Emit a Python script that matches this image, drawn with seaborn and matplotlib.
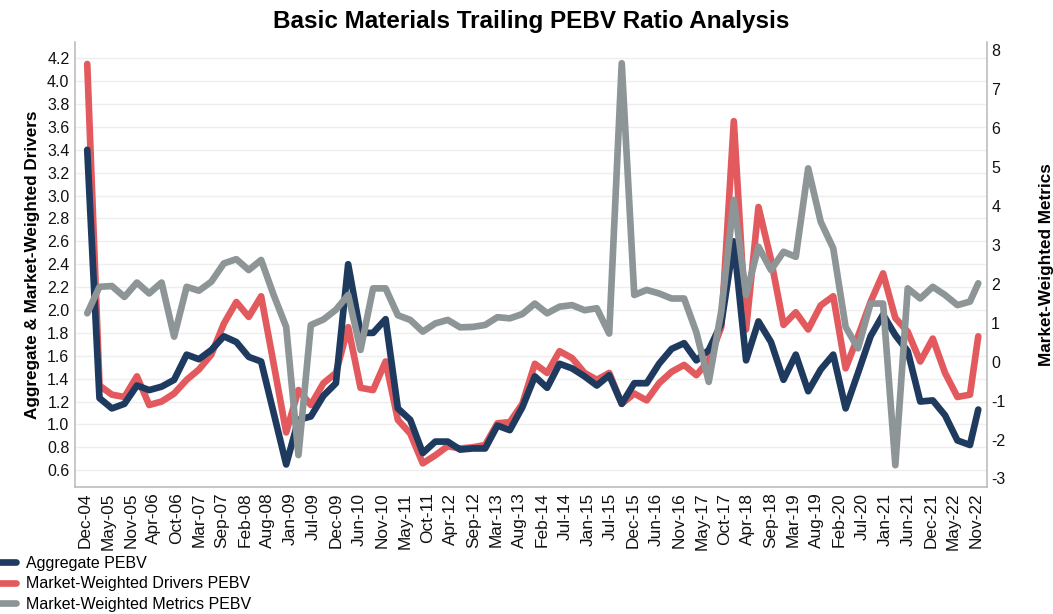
import numpy as np
import pandas as pd
import matplotlib
matplotlib.use("Agg")
import matplotlib.pyplot as plt
import matplotlib.dates as mdates
from matplotlib.ticker import FormatStrFormatter
import seaborn as sns

# quarterly points Dec-04 .. Sep-22, then a last reading in Nov-22
dates = [pd.Timestamp("2004-12-31") + pd.offsets.QuarterEnd(k) for k in range(72)]
dates.append(pd.Timestamp("2022-11-30"))

aggregate = [3.40, 1.23, 1.14, 1.18, 1.34, 1.30, 1.33, 1.39, 1.61, 1.57,
             1.65, 1.77, 1.72, 1.59, 1.55, 1.10, 0.65, 1.04, 1.07, 1.25,
             1.36, 2.40, 1.80, 1.80, 1.92, 1.14, 1.04, 0.75, 0.85, 0.85,
             0.78, 0.79, 0.79, 0.99, 0.95, 1.15, 1.42, 1.32, 1.53, 1.49,
             1.42, 1.34, 1.43, 1.18, 1.36, 1.36, 1.53, 1.66, 1.71, 1.56,
             1.65, 1.88, 2.60, 1.56, 1.90, 1.72, 1.39, 1.61, 1.29, 1.48,
             1.61, 1.14, 1.45, 1.77, 1.96, 1.78, 1.64, 1.20, 1.21, 1.08,
             0.86, 0.82, 1.13]

drivers = [4.15, 1.34, 1.26, 1.24, 1.42, 1.17, 1.20, 1.27, 1.39, 1.48,
           1.61, 1.88, 2.07, 1.94, 2.12, 1.53, 0.93, 1.30, 1.17, 1.36,
           1.45, 1.85, 1.32, 1.30, 1.55, 1.04, 0.92, 0.66, 0.73, 0.81,
           0.79, 0.80, 0.82, 1.01, 1.02, 1.18, 1.53, 1.45, 1.64, 1.58,
           1.45, 1.39, 1.45, 1.18, 1.27, 1.21, 1.36, 1.46, 1.52, 1.43,
           1.56, 1.85, 3.65, 1.83, 2.90, 2.44, 1.87, 1.98, 1.83, 2.04,
           2.12, 1.49, 1.77, 2.07, 2.32, 1.93, 1.81, 1.55, 1.75, 1.45,
           1.24, 1.26, 1.77]

metrics = [1.24, 1.92, 1.94, 1.66, 2.03, 1.75, 2.03, 0.64, 1.92, 1.82,
           2.05, 2.52, 2.63, 2.35, 2.61, 1.71, 0.89, -2.40, 0.94, 1.08,
           1.33, 1.71, 0.30, 1.88, 1.88, 1.19, 1.07, 0.77, 0.98, 1.07,
           0.88, 0.89, 0.94, 1.14, 1.11, 1.22, 1.49, 1.24, 1.41, 1.45,
           1.32, 1.37, 0.72, 7.66, 1.71, 1.84, 1.75, 1.62, 1.62, 0.75,
           -0.52, 1.30, 4.15, 1.71, 2.95, 2.35, 2.82, 2.69, 4.96, 3.59,
           2.91, 0.89, 0.34, 1.49, 1.49, -2.66, 1.88, 1.62, 1.92, 1.71,
           1.45, 1.54, 2.01]

tick_labels = ["Dec-04", "May-05", "Nov-05", "Apr-06", "Oct-06", "Mar-07",
               "Sep-07", "Feb-08", "Aug-08", "Jan-09", "Jul-09", "Dec-09",
               "Jun-10", "Nov-10", "May-11", "Oct-11", "Apr-12", "Sep-12",
               "Mar-13", "Aug-13", "Feb-14", "Jul-14", "Jan-15", "Jul-15",
               "Dec-15", "Jun-16", "Nov-16", "May-17", "Oct-17", "Apr-18",
               "Sep-18", "Mar-19", "Aug-19", "Feb-20", "Jul-20", "Jan-21",
               "Jun-21", "Dec-21", "May-22", "Nov-22"]

df = pd.DataFrame({"date": dates,
                   "Aggregate PEBV": aggregate,
                   "Market-Weighted Drivers PEBV": drivers,
                   "Market-Weighted Metrics PEBV": metrics})

NAVY = "#1F3A5F"
RED = "#E35A5E"
GRAY = "#8D9597"

sns.set_theme(style="white")
plt.rcParams["font.family"] = ["Liberation Sans", "DejaVu Sans"]
plt.rcParams["axes.unicode_minus"] = False
plt.rcParams["text.color"] = "black"
plt.rcParams["axes.labelcolor"] = "black"

fig, ax = plt.subplots(figsize=(10.53, 6.14), dpi=100)
fig.subplots_adjust(left=0.0712, right=0.9373, bottom=0.2068, top=0.9316)

sns.lineplot(data=df, x="date", y="Market-Weighted Drivers PEBV", ax=ax,
             color=RED, lw=4.8, label="Market-Weighted Drivers PEBV")
sns.lineplot(data=df, x="date", y="Aggregate PEBV", ax=ax,
             color=NAVY, lw=4.8, label="Aggregate PEBV")

ax2 = ax.twinx()
sns.lineplot(data=df, x="date", y="Market-Weighted Metrics PEBV", ax=ax2,
             color=GRAY, lw=4.8, label="Market-Weighted Metrics PEBV")

h1, l1 = ax.get_legend_handles_labels()
h2, l2 = ax2.get_legend_handles_labels()
ax.get_legend().remove()
ax2.get_legend().remove()
handles = [h1[1], h1[0], h2[0]]
labels = [l1[1], l1[0], l2[0]]

# axes ranges
ax.set_ylim(0.453, 4.342)
ax2.set_ylim(-3.22, 8.205)
first = mdates.date2num(dates[0])
last = mdates.date2num(dates[-1])
ax.set_xlim(first - 90, last + 64)

ax.set_yticks(np.arange(0.6, 4.21, 0.2))
ax.yaxis.set_major_formatter(FormatStrFormatter("%.1f"))
ax2.set_yticks(range(-3, 9))

ax.set_xticks(np.linspace(first - 17, last - 14, len(tick_labels)))
ax.set_xticklabels(tick_labels, rotation=90)

ax.yaxis.grid(True, color="#EEEEEE", lw=1)
ax.set_axisbelow(True)

ax.tick_params(axis="x", length=0, labelsize=12.4, pad=4, colors="#111111")
ax.tick_params(axis="y", length=0, labelsize=11.5, pad=4, colors="#111111")
ax2.tick_params(axis="y", length=0, labelsize=11.5, pad=3, colors="#111111")

for a in (ax, ax2):
    a.spines["top"].set_visible(False)
ax.spines["right"].set_visible(False)
ax2.spines["left"].set_visible(False)
ax2.spines["bottom"].set_visible(False)
for s in (ax.spines["left"], ax.spines["bottom"], ax2.spines["right"]):
    s.set_color("#BDBDBD")
    s.set_linewidth(1.2)

ax.set_xlabel("")
ax.set_ylabel("Aggregate & Market-Weighted Drivers", fontsize=12.3,
              fontweight="bold", labelpad=5)
ax2.set_ylabel("Market-Weighted Metrics", fontsize=12.3, fontweight="bold",
               labelpad=24)
ax.set_title("Basic Materials Trailing PEBV Ratio Analysis", fontsize=17.5,
             fontweight="bold", pad=10)

fig.legend(handles, labels, loc="upper left", bbox_to_anchor=(-0.012, 0.108),
           frameon=False, fontsize=11.5, handlelength=1.3, handletextpad=0.6,
           labelspacing=0.35, borderpad=0)

fig.savefig("out.png", dpi=100)
